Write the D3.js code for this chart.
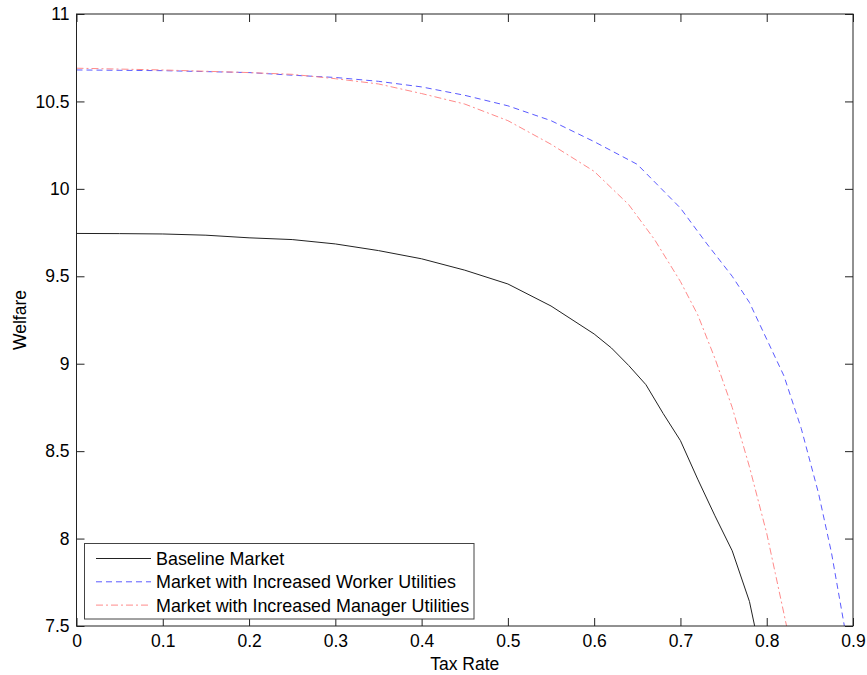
<!DOCTYPE html>
<html>
<head>
<meta charset="utf-8">
<script src="https://cdn.jsdelivr.net/npm/d3@7"></script>
<style>
  html, body { margin: 0; padding: 0; background: #fff; }
  svg { display: block; font-family: Arial, "Liberation Sans", sans-serif; }
</style>
</head>
<body>
<svg id="chart" width="867" height="675"></svg>
<script>
// ---- Data ----
const xTicks = [0, 0.1, 0.2, 0.3, 0.4, 0.5, 0.6, 0.7, 0.8, 0.9];
const yTicks = [7.5, 8, 8.5, 9, 9.5, 10, 10.5, 11];

const baselineX = [0, 0.05, 0.1, 0.15, 0.2, 0.25, 0.3, 0.35, 0.4, 0.45, 0.5, 0.55, 0.6, 0.62, 0.64, 0.66, 0.68, 0.7, 0.72, 0.74, 0.76, 0.78, 0.786];
const baselineY = [9.745, 9.744, 9.742, 9.735, 9.72, 9.71, 9.685, 9.647, 9.60, 9.535, 9.456, 9.33, 9.17, 9.09, 8.99, 8.88, 8.715, 8.56, 8.34, 8.13, 7.93, 7.64, 7.5];

const workerX = [0, 0.1, 0.2, 0.25, 0.3, 0.35, 0.4, 0.45, 0.5, 0.55, 0.6, 0.65, 0.7, 0.73, 0.76, 0.78, 0.8, 0.82, 0.84, 0.86, 0.875, 0.89];
const workerY = [10.68, 10.676, 10.665, 10.65, 10.637, 10.615, 10.583, 10.535, 10.475, 10.39, 10.27, 10.14, 9.89, 9.69, 9.50, 9.35, 9.14, 8.93, 8.63, 8.26, 7.92, 7.5];

const managerX = [0, 0.1, 0.2, 0.25, 0.3, 0.35, 0.4, 0.45, 0.5, 0.55, 0.6, 0.64, 0.67, 0.7, 0.72, 0.74, 0.76, 0.78, 0.8, 0.81, 0.823];
const managerY = [10.69, 10.68, 10.665, 10.655, 10.63, 10.60, 10.545, 10.485, 10.39, 10.255, 10.10, 9.91, 9.71, 9.47, 9.28, 9.03, 8.75, 8.41, 8.03, 7.80, 7.5];

const seriesNames = ["Baseline Market", "Market with Increased Worker Utilities", "Market with Increased Manager Utilities"];
const seriesColors = ["#222222", "#5a5aff", "#ff8a8a"];
const seriesDash = [null, "6,4", "7,3,2,3"];

// ---- Layout ----
const svg = d3.select("#chart");
const plotL = 76.5, plotR = 853, plotT = 14, plotB = 626;
const x = d3.scaleLinear().domain([0, 0.9]).range([plotL, plotR]);
const y = d3.scaleLinear().domain([7.5, 11]).range([plotB, plotT]);

const series = [
  { name: seriesNames[0], xs: baselineX, ys: baselineY, color: seriesColors[0], dash: seriesDash[0] },
  { name: seriesNames[1], xs: workerX, ys: workerY, color: seriesColors[1], dash: seriesDash[1] },
  { name: seriesNames[2], xs: managerX, ys: managerY, color: seriesColors[2], dash: seriesDash[2] }
];

svg.append("clipPath").attr("id", "clip")
  .append("rect").attr("x", plotL).attr("y", plotT).attr("width", plotR - plotL).attr("height", plotB - plotT);

const line = d3.line().x(d => x(d[0])).y(d => y(d[1]));

const lines = svg.append("g").attr("clip-path", "url(#clip)");
series.forEach(s => {
  const pts = s.xs.map((v, i) => [v, s.ys[i]]);
  lines.append("path")
    .attr("d", line(pts))
    .attr("fill", "none")
    .attr("stroke", s.color)
    .attr("stroke-width", 1)
    .attr("stroke-dasharray", s.dash);
});

// ---- Axes (MATLAB-like box with inward ticks on all sides) ----
const tickLen = 8;
const axisColor = "#222";
const fontSize = 17.5;
const legendFontSize = 17.9;

const bottomAxis = d3.axisBottom(x).tickValues(xTicks).tickSize(-tickLen).tickPadding(9).tickFormat(d3.format("~g"));
const topAxis = d3.axisTop(x).tickValues(xTicks).tickSize(-tickLen).tickFormat("");
const leftAxis = d3.axisLeft(y).tickValues(yTicks).tickSize(-tickLen).tickPadding(7).tickFormat(d3.format("~g"));
const rightAxis = d3.axisRight(y).tickValues(yTicks).tickSize(-tickLen).tickFormat("");

function styleAxis(g) {
  g.selectAll(".tick line").attr("stroke", axisColor);
  g.selectAll(".tick text").attr("fill", "#000").style("font-size", fontSize + "px").style("font-family", "Arial, 'Liberation Sans', sans-serif");
}

svg.append("g").attr("transform", `translate(0,${plotB})`).call(bottomAxis).call(styleAxis);
svg.append("g").attr("transform", `translate(0,${plotT})`).call(topAxis).call(styleAxis);
svg.append("g").attr("transform", `translate(${plotL},0)`).call(leftAxis).call(styleAxis);
svg.append("g").attr("transform", `translate(${plotR},0)`).call(rightAxis).call(styleAxis);
svg.selectAll("path.domain").remove();
svg.append("rect").attr("x", plotL).attr("y", plotT).attr("width", plotR - plotL).attr("height", plotB - plotT)
  .attr("fill", "none").attr("stroke", axisColor).attr("stroke-width", 1);

// ---- Axis labels ----
svg.append("text").attr("x", (plotL + plotR) / 2).attr("y", 670)
  .attr("text-anchor", "middle").style("font-size", fontSize + "px").text("Tax Rate");
svg.append("text").attr("transform", `translate(26,${(plotT + plotB) / 2}) rotate(-90)`)
  .attr("text-anchor", "middle").style("font-size", fontSize + "px").text("Welfare");

// ---- Legend ----
const lg = svg.append("g");
lg.append("rect").attr("x", 84.5).attr("y", 543.5).attr("width", 389.5).attr("height", 75.5)
  .attr("fill", "#fff").attr("stroke", "#444").attr("stroke-width", 1);
series.forEach((s, i) => {
  const cy = 558.5 + i * 23.3;
  lg.append("line").attr("x1", 96).attr("x2", 151).attr("y1", cy).attr("y2", cy)
    .attr("stroke", s.color).attr("stroke-width", 1).attr("stroke-dasharray", s.dash);
  lg.append("text").attr("x", 156).attr("y", cy).attr("dy", "0.36em")
    .style("font-size", legendFontSize + "px").attr("fill", "#000").text(s.name);
});
</script>
</body>
</html>
